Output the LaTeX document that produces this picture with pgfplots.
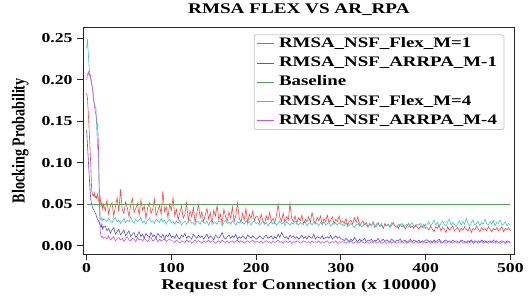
\documentclass[border=0pt]{standalone}
\usepackage{fontspec}
\setmainfont{Liberation Serif}
\usepackage{pgfplots}
\usepackage{pgfplotstable}
\pgfplotsset{compat=1.18}
\definecolor{cR}{RGB}{255,70,70}
\definecolor{cB}{RGB}{80,80,255}
\definecolor{cG}{RGB}{80,165,80}
\definecolor{cC}{RGB}{60,200,200}
\definecolor{cM}{RGB}{215,80,215}
\definecolor{cAx}{RGB}{40,40,40}
\pgfplotstableread{
x r b c m
0 184 140 238 200
1 178 122 249 206
2 160 104 232 210
3 140 86 215 205
4 118 68 203 207
5 95 55 200 203
6 66 50 196 195
7 62 46 190 190
8 60 44 182 176
9 64 42 172 171
10 58 40 168 163
11 60 38 166 158
12 57 34 140 150
13 62 32 118 145
14 55 30 112 120
15 52 28 60 60
16 58 25 33 18
17 48 22 31 12
18 52 26 34 10
19 44 20 30 11
20 50 23 32 9
22 42 24 31 10
24 55 18 29 8
26 38 21 33 12
28 48 15 30 7
30 52 19 28 9
32 36 22 32 11
34 47 14 34 6
36 58 17 29 8
38 41 20 31 10
40 68 13 27 7
42 44 16 30 9
44 39 19 33 5
46 53 12 28 8
48 46 15 31 11
50 35 18 29 7
52 49 11 35 6
54 57 14 30 9
56 40 16 27 8
58 45 10 32 5
60 51 13 29 10
62 37 17 31 7
64 55 11 34 8
66 43 14 28 6
68 48 9 30 9
70 33 15 26 7
72 46 12 31 5
74 52 10 33 8
76 39 16 29 10
78 44 11 30 6
80 56 13 27 7
82 36 9 32 9
84 42 15 30 5
86 49 12 28 8
88 38 10 33 6
90 66 14 29 7
92 41 8 31 9
94 47 13 26 5
96 34 11 30 7
98 50 15 32 8
100 43 10 28 6
102 58 12 29 6
104 36 9 26 4
106 44 14 30 7
108 31 10 27 5
110 40 8 31 3
112 48 13 25 6
114 33 11 28 5
116 38 15 30 4
118 52 9 26 7
120 30 12 29 5
122 42 10 32 6
124 35 8 27 3
126 46 14 28 5
128 28 11 25 7
130 39 9 30 4
132 50 13 29 6
134 34 10 26 5
136 41 12 31 3
138 29 8 28 6
140 37 11 27 4
142 45 14 30 5
144 32 9 25 7
146 40 12 29 4
148 26 10 31 6
150 43 7 27 5
152 36 13 28 3
154 49 11 26 5
156 31 9 30 6
158 38 12 29 4
160 27 16 24 7
162 44 10 28 5
164 35 8 31 4
166 30 11 27 6
168 41 13 29 3
170 33 9 26 5
172 47 12 30 6
174 29 10 28 4
176 36 14 25 5
178 52 8 29 7
180 34 11 27 4
182 28 9 31 6
184 39 12 28 5
186 31 10 26 3
188 45 8 30 5
190 27 13 27 6
192 38 11 29 4
194 33 9 25 5
196 42 12 28 7
198 30 10 30 4
200 36 8 27 5
202 35 9 28 5
204 28 12 25 4
206 38 10 27 6
208 30 8 30 3
210 26 11 26 5
212 36 13 28 6
214 31 9 24 4
216 40 10 27 5
218 29 12 29 3
220 33 8 26 6
222 27 11 28 4
224 37 9 25 5
226 50 14 27 7
228 34 10 30 4
230 30 16 26 5
232 39 12 28 3
234 28 9 24 6
236 35 11 29 5
238 31 8 27 4
240 51 13 25 6
242 33 10 28 3
244 29 12 26 5
246 36 9 30 4
248 27 11 27 6
250 34 8 25 5
252 30 10 28 3
254 37 13 26 4
256 26 9 27 6
258 32 11 29 5
260 29 8 24 4
262 35 12 27 5
264 28 10 28 3
266 40 9 25 6
268 31 14 29 4
270 27 8 26 5
272 34 11 27 4
274 30 10 24 6
276 36 9 28 3
278 25 12 26 5
280 33 8 29 4
282 29 10 25 5
284 37 11 27 6
286 28 9 28 3
288 31 13 24 4
290 35 8 26 5
292 26 10 29 4
294 32 12 27 6
296 29 9 25 3
298 36 11 28 5
300 28 8 26 4
302 30 8 26 5
304 27 6 24 4
306 33 9 28 3
308 25 7 23 5
310 29 5 25 4
312 31 8 27 6
314 26 6 24 3
316 34 10 22 4
318 28 7 26 5
320 35 5 25 3
322 24 8 28 4
324 27 6 23 6
326 30 7 24 4
328 25 9 27 3
330 28 5 25 5
332 23 7 22 4
334 27 6 26 3
336 24 8 24 5
338 29 5 28 4
340 22 7 25 6
342 26 6 23 3
344 28 9 26 4
346 23 5 24 5
348 25 6 27 3
350 21 8 22 4
352 27 5 25 5
354 24 7 24 3
356 26 6 26 4
358 22 4 23 6
360 25 8 28 3
362 28 6 25 5
364 23 5 24 4
366 24 7 22 3
368 21 6 26 4
370 26 8 25 5
372 23 5 27 3
374 25 6 23 4
376 20 7 24 5
378 24 4 26 3
380 27 6 22 4
382 22 8 25 6
384 24 5 28 4
386 21 7 24 3
388 25 6 23 5
390 23 5 26 4
392 20 7 25 3
394 24 4 27 5
396 22 6 24 4
398 26 5 22 3
400 21 7 26 4
402 22 7 26 4
404 19 5 29 5
406 24 6 24 3
408 20 4 27 4
410 17 7 31 5
412 23 5 25 3
414 21 6 28 4
416 25 8 23 6
418 18 5 27 3
420 22 4 30 4
422 20 6 26 5
424 16 7 24 3
426 23 5 29 4
428 19 6 32 5
430 21 4 25 4
432 24 7 28 3
434 18 5 26 5
436 20 6 23 4
438 22 5 27 3
440 17 4 30 4
442 21 7 25 6
444 19 6 29 3
446 23 5 26 4
448 20 4 33 5
450 18 6 27 3
452 22 5 24 4
454 16 7 28 5
456 21 4 31 3
458 19 6 25 4
460 24 5 27 5
462 20 6 29 3
464 17 4 24 4
466 22 7 28 6
468 19 5 26 3
470 21 6 32 4
472 18 4 27 5
474 23 5 25 3
476 20 6 29 4
478 17 4 26 5
480 21 7 30 4
482 19 5 24 3
484 22 6 28 5
486 18 4 27 4
488 20 5 31 3
490 23 6 25 4
492 17 5 26 5
494 21 4 29 3
496 19 6 24 4
498 22 5 27 5
500 18 4 25 4
}\datatab
\begin{document}
\begin{tikzpicture}
\begin{axis}[
  scale only axis, width=426bp, height=224bp,
  xmin=-4, xmax=505, ymin=-0.0101, ymax=0.2634,
  xtick={0,100,200,300,400,500},
  ytick={0,0.05,0.1,0.15,0.2,0.25},
  xtick pos=bottom, ytick pos=left,
  tick align=outside, major tick length=6bp,
  separate axis lines,
  axis line style={draw=cAx, line width=1pt},
  tick style={draw=cAx, line width=0.9pt},
  /pgf/number format/assume math mode=true,
  yticklabel style={/pgf/number format/fixed, /pgf/number format/fixed zerofill, /pgf/number format/precision=2},
  ticklabel style={font=\bfseries\fontsize{13.5}{15}\selectfont, xscale=1.3},
  title={RMSA FLEX VS AR\_RPA},
  title style={at={(axis description cs:0.5,1.053)}, anchor=center, xscale=1.3, font=\bfseries\fontsize{14.6}{16}\selectfont},
  xlabel={Request for Connection (x 10000)},
  xlabel style={at={(axis description cs:0.5,-0.14)}, anchor=center, xscale=1.3, font=\bfseries\fontsize{14.7}{16}\selectfont},
  ylabel={Blocking Probability},
  ylabel style={at={(axis description cs:-0.146,0.5)}, anchor=center, yscale=1.3, inner ysep=9bp, font=\bfseries\fontsize{14}{16}\selectfont},
  legend cell align=left,
  legend style={at={(axis description cs:0.9765,0.969)}, anchor=north east,
    draw=gray!45, line width=0.8pt, rounded corners=2bp,
    font=\bfseries\fontsize{14.4}{16}\selectfont,
    inner xsep=2bp, inner ysep=2bp, row sep=5.5bp,
    nodes={inner xsep=5bp, inner ysep=0bp, text height=10.5bp, text depth=3bp}},
]
\addplot[cR, line width=0.6pt] table[x=x, y expr=\thisrow{r}/1000] {\datatab};
\addlegendentry{\scalebox{1.3}[1]{RMSA\_NSF\_Flex\_M=1}}
\addplot[cB, line width=0.6pt] table[x=x, y expr=\thisrow{b}/1000] {\datatab};
\addlegendentry{\scalebox{1.3}[1]{RMSA\_NSF\_ARRPA\_M-1}}
\addplot[cG, line width=0.6pt] coordinates {(1,0.05) (500,0.05)};
\addlegendentry{\scalebox{1.3}[1]{Baseline}}
\addplot[cC, line width=0.6pt] table[x=x, y expr=\thisrow{c}/1000] {\datatab};
\addlegendentry{\scalebox{1.3}[1]{RMSA\_NSF\_Flex\_M=4}}
\addplot[cM, line width=0.6pt] table[x=x, y expr=\thisrow{m}/1000] {\datatab};
\addlegendentry{\scalebox{1.3}[1]{RMSA\_NSF\_ARRPA\_M-4}}
\end{axis}
\end{tikzpicture}
\end{document}
